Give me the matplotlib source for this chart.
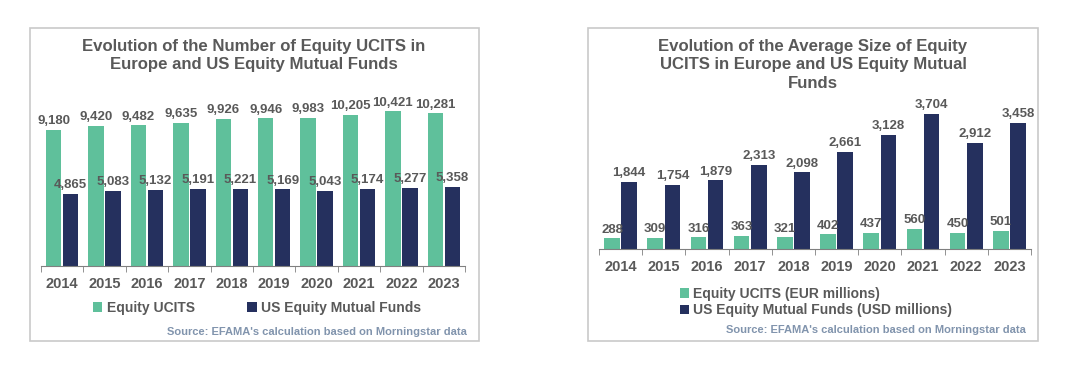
import matplotlib.pyplot as plt
from matplotlib.patches import Rectangle
import numpy as np

plt.rcParams['font.family'] = ['Liberation Sans', 'DejaVu Sans']
plt.rcParams['font.weight'] = 'bold'

# data
years = ['2014', '2015', '2016', '2017', '2018', '2019', '2020', '2021', '2022', '2023']
ucits_count = [9180, 9420, 9482, 9635, 9926, 9946, 9983, 10205, 10421, 10281]
us_count = [4865, 5083, 5132, 5191, 5221, 5169, 5043, 5174, 5277, 5358]
ucits_size = [288, 309, 316, 363, 321, 402, 437, 560, 450, 501]
us_size = [1844, 1754, 1879, 2313, 2098, 2661, 3128, 3704, 2912, 3458]

GREEN = '#5fc09b'
NAVY = '#25305e'
TEXT = '#595959'
SOURCE = '#8194ad'

W, H = 1091, 372
fig = plt.figure(figsize=(W / 100, H / 100), dpi=100)


def box(x0, y0, x1, y1):
    # pixel coords (top-left origin) -> figure fraction
    return [x0 / W, 1 - y1 / H, (x1 - x0) / W, (y1 - y0) / H]


def fx(x):
    return x / W


def fy(y):
    return 1 - y / H


# panel frames
for x0, x1 in [(30, 479), (588, 1038)]:
    fig.patches.append(Rectangle((fx(x0), fy(341)), fx(x1) - fx(x0), fy(28) - fy(341),
                                 transform=fig.transFigure, fill=False,
                                 edgecolor='#c9c9c9', linewidth=1.2))


def draw(ax, a, b, ymax):
    x = np.arange(len(years))
    w = 0.36
    b1 = ax.bar(x - 0.2, a, w, color=GREEN)
    b2 = ax.bar(x + 0.2, b, w, color=NAVY)
    for bars in (b1, b2):
        for r in bars:
            ax.annotate(f'{int(r.get_height()):,}', (r.get_x() + r.get_width() / 2, r.get_height()),
                        xytext=(0, 2), textcoords='offset points', ha='center', va='bottom',
                        fontsize=9.5, color=TEXT, annotation_clip=False)
    ax.set_xlim(-0.5, len(years) - 0.5)
    ax.set_ylim(0, ymax)
    ax.set_xticks(x)
    ax.set_xticklabels(years, fontsize=10.5, color=TEXT)
    ax.tick_params(axis='x', length=0, pad=8)
    ax.set_xticks(np.arange(-0.5, len(years)), minor=True)
    ax.tick_params(axis='x', which='minor', length=4, color='#808080', direction='out')
    ax.set_yticks([])
    for s in ['top', 'right', 'left']:
        ax.spines[s].set_visible(False)
    ax.spines['bottom'].set_color('#808080')
    return b1, b2


ax1 = fig.add_axes(box(41, 88, 465, 266))
h1 = draw(ax1, ucits_count, us_count, 12000)
ax2 = fig.add_axes(box(599, 103, 1031, 249))
h2 = draw(ax2, ucits_size, us_size, 4000)

fig.text(fx(254), fy(55), 'Evolution of the Number of Equity UCITS in\nEurope and US Equity Mutual Funds',
         ha='center', va='center', fontsize=12.1, color=TEXT, linespacing=1.25)
fig.text(fx(813), fy(65), 'Evolution of the Average Size of Equity\nUCITS in Europe and US Equity Mutual\nFunds',
         ha='center', va='center', fontsize=12.1, color=TEXT, linespacing=1.25)

fig.legend(h1, ['Equity UCITS', 'US Equity Mutual Funds'], loc='center',
           bbox_to_anchor=(fx(257), fy(308)), ncol=2, frameon=False, fontsize=10,
           handlelength=0.7, handleheight=0.7, handletextpad=0.3, columnspacing=3.8,
           labelcolor=TEXT)
fig.legend(h2, ['Equity UCITS (EUR millions)', 'US Equity Mutual Funds (USD millions)'], loc='center',
           bbox_to_anchor=(fx(816), fy(302)), ncol=1, frameon=False, fontsize=10,
           handlelength=0.7, handleheight=0.7, handletextpad=0.3, labelspacing=0.2,
           labelcolor=TEXT)

fig.text(fx(467), fy(332), "Source: EFAMA's calculation based on Morningstar data",
         ha='right', va='center', fontsize=8, color=SOURCE)
fig.text(fx(1026), fy(330), "Source: EFAMA's calculation based on Morningstar data",
         ha='right', va='center', fontsize=8, color=SOURCE)

fig.savefig('out.png', dpi=100, facecolor='white')
